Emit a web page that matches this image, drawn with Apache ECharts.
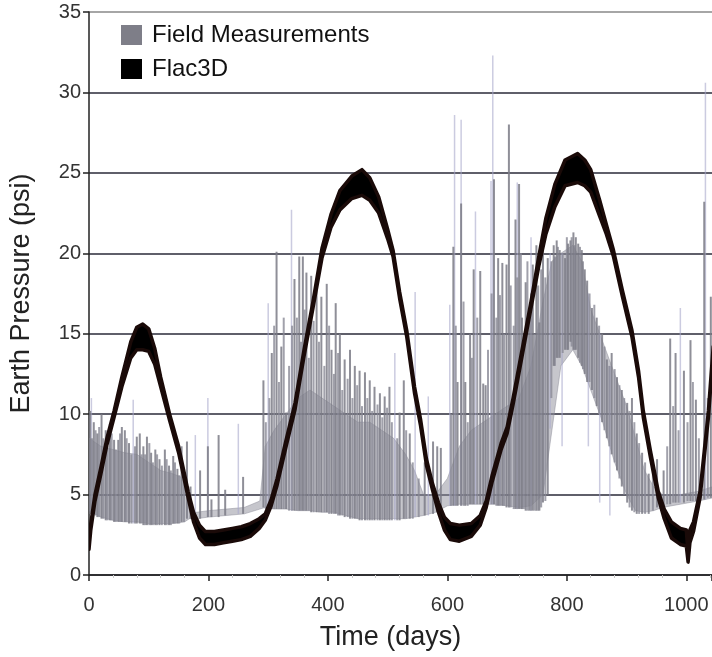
<!DOCTYPE html>
<html>
<head>
<meta charset="utf-8">
<script src="https://cdn.jsdelivr.net/npm/echarts@6/dist/echarts.min.js"></script>
<style>
html,body{margin:0;padding:0;background:#fff;}
#chart{width:712px;height:657px;}
</style>
</head>
<body>
<div id="chart"></div>
<script>
// ---- Flac3D simulation (days, psi) ----
var flacDay = [0,3,10,20,30,42,55,70,80,90,100,110,120,135,150,166,175,185,195,210,225,240,255,270,285,295,305,315,330,345,360,375,390,405,420,440,457,470,485,500,509,520,532,545,555,565,575,585,595,605,620,640,655,665,675,690,700,710,720,730,740,753,765,780,797,818,830,840,855,866,878,893,909,920,928,940,953,963,975,990,1000,1003,1006,1012,1023,1030,1037,1045];
var flacValue = [1.8,3.0,4.8,6.5,8.3,10.0,12.0,14.0,14.7,14.8,14.6,13.6,12.0,9.8,7.8,5.0,3.6,2.7,2.3,2.3,2.4,2.5,2.6,2.8,3.2,3.6,4.5,5.8,8.2,10.5,13.8,16.8,20.0,22.0,23.3,24.1,24.4,24.0,23.0,21.2,20.0,17.4,15.0,11.5,9.5,7.0,5.5,4.2,3.2,2.7,2.6,2.8,3.4,4.4,6.0,8.0,9.0,10.8,12.8,14.8,16.8,19.5,21.7,23.6,25.0,25.3,25.0,24.5,22.8,21.5,20.0,17.5,15.0,12.5,10.0,7.5,5.0,3.8,2.8,2.4,2.3,1.0,2.4,3.0,5.0,7.5,10.0,14.0];
// half-width of the noisy band around the Flac3D curve (psi)
var flacSpread = [0.2,0.2,0.2,0.2,0.2,0.2,0.3,0.5,0.7,0.8,0.7,0.5,0.3,0.2,0.2,0.2,0.3,0.4,0.4,0.4,0.4,0.4,0.4,0.4,0.3,0.2,0.2,0.2,0.2,0.2,0.2,0.2,0.3,0.4,0.6,0.7,0.8,0.7,0.5,0.3,0.2,0.2,0.2,0.2,0.2,0.2,0.2,0.3,0.4,0.5,0.5,0.4,0.3,0.2,0.2,0.2,0.2,0.2,0.2,0.2,0.2,0.3,0.5,0.7,0.8,0.9,0.8,0.7,0.5,0.3,0.2,0.2,0.2,0.2,0.2,0.2,0.2,0.3,0.5,0.5,0.5,0.2,0.4,0.3,0.2,0.2,0.2,0.2];

// ---- Field measurements: dense core envelope ----
var coreDay  = [0,20,40,60,80,100,120,140,160,168,180,200,230,260,286,295,310,330,350,370,390,410,430,450,470,490,510,530,545,560,580,600,620,640,660,680,700,720,740,760,775,790,810,825,840,860,880,900,915,930,945,960,990,1020,1045];
var coreLow  = [4.0,3.6,3.4,3.3,3.3,3.2,3.2,3.2,3.3,3.5,3.5,3.6,3.7,3.8,4.1,4.2,4.1,4.1,4.0,4.0,3.9,3.9,3.7,3.5,3.5,3.5,3.5,3.5,3.6,3.7,3.9,4.3,4.4,4.4,4.4,4.4,4.3,4.2,4.3,5.0,9.0,13.0,14.0,13.0,11.5,9.5,7.0,5.0,4.0,3.9,4.0,4.2,4.4,4.6,4.8];
var coreHigh = [8.5,8.0,7.8,7.6,7.5,7.0,6.5,6.3,6.0,4.0,3.9,4.0,4.1,4.2,4.6,8.0,9.0,10.0,11.0,11.5,11.0,10.5,10.0,9.5,9.5,9.0,8.5,7.5,6.5,5.0,5.0,6.0,8.0,9.0,9.5,10.0,10.5,11.0,13.0,17.0,19.5,20.0,20.5,19.5,16.5,14.5,12.5,10.5,8.5,6.5,5.5,5.0,5.0,5.2,5.5];

// ---- Field measurements: individual readings (dark, main peaks) ----
var darkDay  = [2,8,14,21,28,35,42,49,55,60,67,80,85,91,97,104,111,118,127,134,141,148,155,164,170,186,199,205,217,228,258,292,306,314,322,330,344,352,358,364,372,381,389,398,406,413,420,428,437,445,453,462,470,478,487,495,503,520,527,537,562,576,583,589,610,617,623,630,638,644,655,660,664,678,685,692,699,703,714,720,725,731,737,743,749,754,760,768,778,783,788,797,802,806,811,815,819,825,830,834,842,850,859,867,875,884,892,901,909,917,926,937,951,962,973,982,996,1007,1016,1030,1041];
var darkLow  = [3.8,3.8,3.6,3.5,3.4,3.4,3.3,3.3,3.3,3.3,3.2,3.2,3.2,3.1,3.1,3.1,3.1,3.1,3.1,3.1,3.2,3.2,3.3,3.5,3.5,3.5,3.6,3.6,3.6,3.7,3.8,4.2,4.1,4.1,4.1,4.1,4.0,4.0,4.0,4.0,3.9,3.9,3.9,3.9,3.8,3.8,3.7,3.6,3.5,3.5,3.4,3.4,3.4,3.4,3.4,3.4,3.4,3.4,3.5,3.5,3.7,3.8,3.9,3.9,4.3,4.3,4.3,4.3,4.4,4.4,4.4,4.4,4.4,4.4,4.3,4.3,4.2,4.2,4.1,4.1,4.1,4.0,4.0,4.0,4.0,4.0,4.5,5.0,13.0,13.5,13.5,14.0,14.0,14.5,14.0,14.0,13.5,13.0,12.5,12.0,11.5,10.5,9.5,8.5,7.5,6.5,5.5,4.5,4.0,3.8,3.8,3.8,4.2,4.3,4.4,4.5,4.5,4.6,4.6,4.7,4.8];
var darkHigh = [10.2,9.5,8.8,10.0,9.0,9.4,8.4,8.4,9.2,9.0,8.2,8.6,8.8,8.0,8.6,7.6,7.8,7.2,7.8,6.8,7.4,6.6,8.0,8.3,5.5,6.5,8.0,4.7,8.7,5.3,6.1,12.1,13.8,20.1,14.2,10.1,18.4,19.8,19.8,18.8,18.6,17.7,17.3,18.1,14.0,16.9,15.0,13.4,14.0,13.0,12.7,12.6,12.1,11.7,11.3,11.1,11.7,10.1,12.1,8.8,7.0,8.3,8.0,7.9,20.4,12.0,23.1,12.0,15.0,19.0,18.9,11.9,11.8,24.6,19.7,19.4,19.3,28.0,22.1,24.3,16.0,18.2,16.5,19.3,20.5,15.7,20.5,19.7,20.5,20.8,20.2,19.7,20.6,20.8,21.3,21.0,20.6,20.2,19.0,18.3,16.6,16.0,15.0,13.4,13.8,12.3,11.5,10.7,11.0,8.8,7.6,6.3,7.2,6.5,14.7,13.8,12.7,14.6,10.9,23.2,17.3];

// ---- Field measurements: in-between readings (dark, dense texture) ----
var midDay  = [5,11,17,24,31,38,45,52,63,71,77,88,94,101,107,114,122,130,137,144,151,159,296,302,310,318,326,335,340,348,355,361,368,376,385,394,402,410,417,424,433,441,449,457,466,474,483,491,499,507,516,531,542,552,606,614,627,634,641,650,668,674,682,688,695,706,711,717,723,728,734,740,746,752,757,764,774,780,785,793,800,808,813,822,827,838,846,854,863,871,880,888,896,905,913,921,931,944,968,978,987,1002,1011,1021,1036];
var midLow  = [3.8,3.7,3.6,3.5,3.4,3.4,3.3,3.3,3.3,3.2,3.2,3.2,3.1,3.1,3.1,3.1,3.1,3.1,3.1,3.2,3.2,3.3,4.1,4.1,4.1,4.1,4.1,4.0,4.0,4.0,4.0,4.0,4.0,3.9,3.9,3.9,3.8,3.8,3.7,3.7,3.6,3.5,3.5,3.4,3.4,3.4,3.4,3.4,3.4,3.4,3.4,3.5,3.5,3.6,4.3,4.3,4.3,4.3,4.4,4.4,4.4,4.4,4.3,4.3,4.3,4.2,4.1,4.1,4.1,4.1,4.0,4.0,4.0,4.0,4.2,4.6,11.0,13.0,13.5,13.8,14.0,14.2,14.0,13.2,12.8,12.0,11.0,10.0,9.0,8.0,7.0,6.0,5.0,4.2,3.9,3.8,3.8,4.0,4.4,4.5,4.5,4.6,4.6,4.6,4.8];
var midHigh = [8.5,9.0,9.2,8.5,8.0,8.8,7.8,8.8,8.5,7.5,8.0,7.5,7.5,8.2,7.0,7.5,6.8,7.2,6.5,7.0,6.2,6.5,9.5,11.0,15.5,12.0,16.0,13.0,15.5,16.0,14.5,16.5,13.5,15.8,14.5,13.0,15.5,12.5,13.8,11.5,12.2,11.0,11.8,10.5,11.0,10.2,10.6,9.8,10.4,9.5,8.5,9.0,7.0,6.0,10.0,15.5,17.0,9.5,13.5,16.0,14.0,17.5,16.0,17.4,15.0,18.0,15.5,18.5,20.0,14.5,19.5,17.5,15.0,18.0,19.0,18.5,19.5,19.8,20.4,20.0,21.0,21.0,20.5,20.4,19.5,17.5,16.8,15.5,14.2,13.0,12.8,11.8,11.0,10.2,9.5,8.2,7.0,6.8,8.0,10.5,9.0,9.5,12.0,8.5,11.0];

// ---- Field measurements: faint tall readings (light) ----
var lightDay  = [4,74,178,199,250,300,339,512,546,568,604,612,623,647,673,676,717,740,772,792,836,855,872,990,1032];
var lightLow  = [3.8,3.2,3.5,3.6,3.8,4.1,4.0,3.4,3.6,3.7,4.3,4.3,4.3,4.4,4.4,4.4,4.1,4.0,9.1,8.0,8.0,4.5,3.7,4.5,4.7];
var lightHigh = [11.0,10.9,8.7,11.0,9.4,16.9,22.7,13.8,17.6,11.1,16.8,28.6,28.3,22.6,24.5,32.3,24.4,21.0,20.0,20.0,17.5,15.0,13.0,16.6,30.6];

// ---- axes ----
var xTicks = {min: 0, max: 1043, interval: 200};
var yTicks = {min: 0, max: 35, interval: 5};

var FONT = 'Liberation Sans, Arial, sans-serif';

function triples(d, lo, hi) { return d.map(function (v, i) { return [v, lo[i], hi[i]]; }); }

function spikeSeries(data, color, width, opacity, z) {
  return {
    type: 'custom', name: 'Field Measurements', z: z, clip: true,
    encode: {x: 0, y: [1, 2]},
    data: data,
    renderItem: function (params, api) {
      var x = api.value(0);
      var p1 = api.coord([x, api.value(1)]);
      var p2 = api.coord([x, api.value(2)]);
      return {type: 'line', shape: {x1: p1[0], y1: p1[1], x2: p2[0], y2: p2[1]},
              style: {stroke: color, lineWidth: width, opacity: opacity}};
    }
  };
}

function bandSeries(name, days, lows, highs, fill, stroke, strokeWidth, opacity, z) {
  return {
    type: 'custom', name: name, z: z, clip: true,
    encode: {x: 0, y: [1, 2]},
    data: triples(days, lows, highs),
    renderItem: function (params, api) {
      if (params.dataIndex !== 0) return null;
      var pts = [], i;
      for (i = 0; i < days.length; i++) pts.push(api.coord([days[i], highs[i]]));
      for (i = days.length - 1; i >= 0; i--) pts.push(api.coord([days[i], lows[i]]));
      return {type: 'polygon', shape: {points: pts},
              style: {fill: fill, stroke: stroke, lineWidth: strokeWidth, lineJoin: 'round', opacity: opacity}};
    }
  };
}

var flacHi = flacValue.map(function (v, i) { return v + flacSpread[i]; });
var flacLo = flacValue.map(function (v, i) { return v - flacSpread[i]; });

var chart = echarts.init(document.getElementById('chart'), null, {renderer: 'canvas'});
chart.setOption({
  animation: false,
  backgroundColor: '#fff',
  grid: {left: 89, top: 12, right: 0, bottom: 82},
  legend: {
    orient: 'vertical', left: 116, top: 18, itemWidth: 21, itemHeight: 20, itemGap: 10,
    icon: 'rect',
    textStyle: {fontSize: 24, color: '#111', fontFamily: FONT, padding: [0, 0, 0, 5]},
    data: [
      {name: 'Field Measurements', itemStyle: {color: '#7e7e88'}},
      {name: 'Flac3D', itemStyle: {color: '#000'}}
    ]
  },
  xAxis: {
    type: 'value', min: xTicks.min, max: xTicks.max, interval: xTicks.interval,
    axisLine: {lineStyle: {color: '#222', width: 1.5}},
    axisTick: {length: 6, lineStyle: {color: '#222', width: 1.5}},
    minorTick: {show: true, splitNumber: 5, length: 3, lineStyle: {color: '#ccc'}},
    splitLine: {show: false},
    axisLabel: {fontSize: 20, color: '#333', margin: 20, fontFamily: FONT, showMaxLabel: false,
                formatter: function (v) { return String(v); }},
    name: 'Time (days)', nameLocation: 'middle', nameGap: 49,
    nameTextStyle: {fontSize: 27, color: '#222', fontFamily: FONT, padding: [0, 20, 0, 0]}
  },
  yAxis: {
    type: 'value', min: yTicks.min, max: yTicks.max, interval: yTicks.interval,
    axisLine: {show: true, lineStyle: {color: '#222', width: 1.5}},
    axisTick: {show: true, length: 6, lineStyle: {color: '#222', width: 1.5}},
    splitLine: {show: true, lineStyle: {color: ['#2a2a38','#2a2a38','#2a2a38','#2a2a38','#2a2a38','#2a2a38','#2a2a38','#888'], width: 1.5}},
    axisLabel: {fontSize: 20, color: '#333', margin: 8, fontFamily: FONT},
    name: 'Earth Pressure (psi)', nameLocation: 'middle', nameGap: 54, nameRotate: 90,
    nameTextStyle: {fontSize: 27, color: '#222', fontFamily: FONT}
  },
  series: [
    bandSeries('Field Measurements', coreDay, coreLow, coreHigh, '#8e8e9a', '#8e8e9a', 1, 0.5, 1),
    spikeSeries(triples(lightDay, lightLow, lightHigh), '#a8a8cc', 1.5, 0.6, 2),
    spikeSeries(triples(midDay, midLow, midHigh), '#8a8a96', 2, 0.8, 3),
    spikeSeries(triples(darkDay, darkLow, darkHigh), '#7b7b86', 2, 0.85, 3),
    bandSeries('Flac3D', flacDay, flacLo, flacHi, '#000', '#1a0a08', 3.5, 1, 5)
  ]
});
</script>
</body>
</html>
